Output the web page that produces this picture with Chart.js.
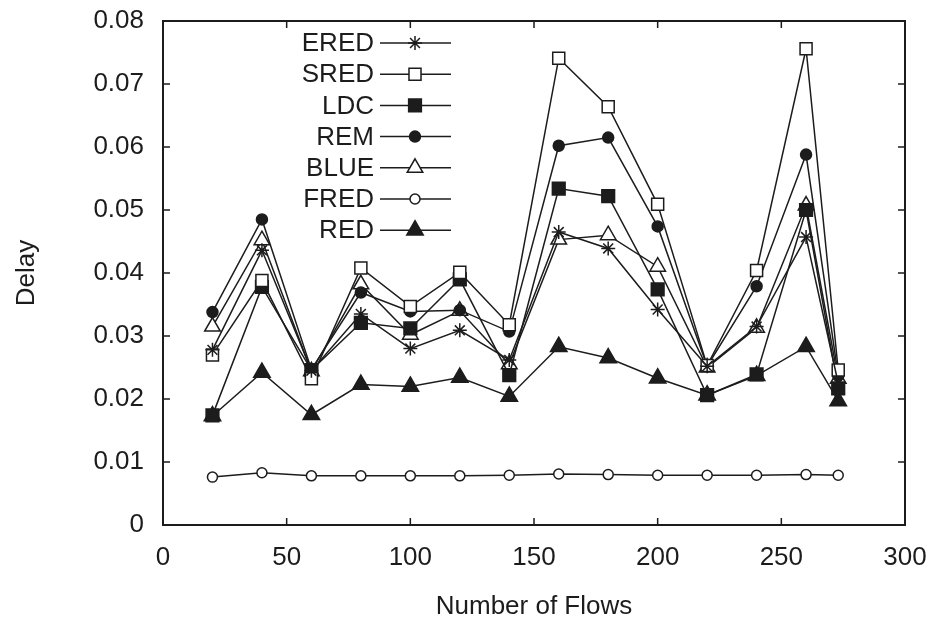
<!DOCTYPE html>
<html>
<head>
<meta charset="utf-8">
<script src="https://cdn.jsdelivr.net/npm/chart.js@4/dist/chart.umd.min.js"></script>
<style>
 body { margin: 0; background: #fff; }
 #chart { display: block; }
</style>
</head>
<body>
<canvas id="chart" width="936" height="624"></canvas>
<script>
// Number of flows on the x axis
const flows = [20, 40, 60, 80, 100, 120, 140, 160, 180, 200, 220, 240, 260, 273];

// Delay per scheme
const ered = [0.0278, 0.0436, 0.0245, 0.0335, 0.0280, 0.0309, 0.0262, 0.0465, 0.0439, 0.0342, 0.0252, 0.0315, 0.0457, 0.0225];
const sred = [0.0270, 0.0388, 0.0232, 0.0408, 0.0347, 0.0401, 0.0318, 0.0741, 0.0664, 0.0509, 0.0253, 0.0404, 0.0756, 0.0246];
const ldc = [0.0174, 0.0378, 0.0246, 0.0321, 0.0312, 0.0390, 0.0238, 0.0534, 0.0522, 0.0374, 0.0206, 0.0239, 0.0500, 0.0217];
const rem = [0.0338, 0.0485, 0.0247, 0.0369, 0.0339, 0.0341, 0.0307, 0.0602, 0.0615, 0.0474, 0.0252, 0.0379, 0.0588, 0.0237];
const blue = [0.0315, 0.0452, 0.0244, 0.0382, 0.0302, 0.0340, 0.0255, 0.0453, 0.0460, 0.0410, 0.0250, 0.0313, 0.0507, 0.0232];
const fred = [0.0076, 0.0083, 0.0078, 0.0078, 0.0078, 0.0078, 0.0079, 0.0081, 0.0080, 0.0079, 0.0079, 0.0079, 0.0080, 0.0079];
const red = [0.0173, 0.0242, 0.0175, 0.0223, 0.0220, 0.0234, 0.0204, 0.0283, 0.0265, 0.0233, 0.0206, 0.0237, 0.0283, 0.0197];

const xTicks = [0, 50, 100, 150, 200, 250, 300];
const yTicks = [0, 0.01, 0.02, 0.03, 0.04, 0.05, 0.06, 0.07, 0.08];

const INK = "#1c1c1c";
const FONT = "'Liberation Sans', Arial, sans-serif";
const SIZE = 26;

const toPoints = (vals) => vals.map((v, i) => ({ x: flows[i], y: v }));

const series = [
 { label: "ERED", data: ered, style: "star", radius: 7, fill: INK },
 { label: "SRED", data: sred, style: "rect", radius: 8.5, fill: "#fff" },
 { label: "LDC", data: ldc, style: "rect", radius: 9, fill: INK },
 { label: "REM", data: rem, style: "circle", radius: 5.5, fill: INK },
 { label: "BLUE", data: blue, style: "triangle", radius: 9, fill: "#fff" },
 { label: "FRED", data: fred, style: "circle", radius: 5, fill: "#fff" },
 { label: "RED", data: red, style: "triangle", radius: 9.5, fill: INK },
];

// keep the plot box where the figure has it
const noScalePadding = (s) => {
 s.paddingTop = 0;
 s.paddingBottom = 0;
 s.paddingLeft = 0;
 s.paddingRight = 0;
};

// frame with inward ticks on all four sides
const framePlugin = {
 id: "frame",
 beforeDatasetsDraw(chart) {
  const { ctx, chartArea: a } = chart;
  const xs = chart.scales.x, ys = chart.scales.y;
  const len = 7;
  ctx.save();
  ctx.strokeStyle = INK;
  ctx.lineWidth = 2;
  ctx.strokeRect(a.left, a.top, a.right - a.left, a.bottom - a.top);
  ctx.lineWidth = 1.5;
  ctx.beginPath();
  xTicks.forEach((t) => {
   const px = xs.getPixelForValue(t);
   ctx.moveTo(px, a.bottom); ctx.lineTo(px, a.bottom - len);
   ctx.moveTo(px, a.top); ctx.lineTo(px, a.top + len);
  });
  yTicks.forEach((t) => {
   const py = ys.getPixelForValue(t);
   ctx.moveTo(a.left, py); ctx.lineTo(a.left + len, py);
   ctx.moveTo(a.right, py); ctx.lineTo(a.right - len, py);
  });
  ctx.stroke();
  ctx.restore();
 },
};

// legend drawn inside the plot: label, then a line with the marker
const legendPlugin = {
 id: "insideLegend",
 afterDatasetsDraw(chart) {
  const { ctx } = chart;
  ctx.save();
  ctx.font = SIZE + "px " + FONT;
  ctx.textAlign = "right";
  ctx.textBaseline = "middle";
  series.forEach((s, i) => {
   const y = 43 + i * 31.2;
   ctx.fillStyle = INK;
   ctx.fillText(s.label, 374, y + 1);
   ctx.strokeStyle = INK;
   ctx.lineWidth = 1.5;
   ctx.beginPath();
   ctx.moveTo(380, y); ctx.lineTo(451, y);
   ctx.stroke();
   ctx.fillStyle = s.fill;
   Chart.helpers.drawPoint(ctx, { pointStyle: s.style, radius: s.radius, rotation: 0, borderWidth: 1.5 }, 415, y);
  });
  ctx.restore();
 },
};

new Chart(document.getElementById("chart").getContext("2d"), {
 type: "line",
 data: {
  datasets: series.map((s) => ({
   label: s.label,
   data: toPoints(s.data),
   borderColor: INK,
   borderWidth: 1.5,
   pointStyle: s.style,
   pointRadius: s.radius,
   pointBorderWidth: 1.5,
   pointBorderColor: INK,
   pointBackgroundColor: s.fill,
   tension: 0,
   fill: false,
  })),
 },
 options: {
  responsive: false,
  animation: false,
  devicePixelRatio: 1,
  layout: { padding: { left: 0, top: 21, right: 31, bottom: 0 } },
  plugins: { legend: { display: false }, tooltip: { enabled: false } },
  scales: {
   x: {
    type: "linear",
    min: 0,
    max: 300,
    afterFit: (s) => { s.height = 99; noScalePadding(s); },
    afterBuildTicks: (s) => { s.ticks = xTicks.map((v) => ({ value: v })); },
    ticks: { color: INK, font: { family: FONT, size: SIZE }, padding: 17, maxRotation: 0 },
    grid: { display: false, drawTicks: false },
    border: { display: false },
    title: { display: true, text: "Number of Flows", color: INK, font: { family: FONT, size: SIZE }, padding: { top: 2, bottom: 2 } },
   },
   y: {
    min: 0,
    max: 0.08,
    afterFit: (s) => { s.width = 163; noScalePadding(s); },
    afterBuildTicks: (s) => { s.ticks = yTicks.map((v) => ({ value: v })); },
    ticks: {
     color: INK,
     font: { family: FONT, size: SIZE },
     padding: 19,
     callback: (v) => (v === 0 ? "0" : v.toFixed(2)),
    },
    grid: { display: false, drawTicks: false },
    border: { display: false },
    title: { display: true, text: "Delay", color: INK, font: { family: FONT, size: SIZE }, padding: { top: 11, bottom: 11 } },
   },
  },
 },
 plugins: [framePlugin, legendPlugin],
});
</script>
</body>
</html>
